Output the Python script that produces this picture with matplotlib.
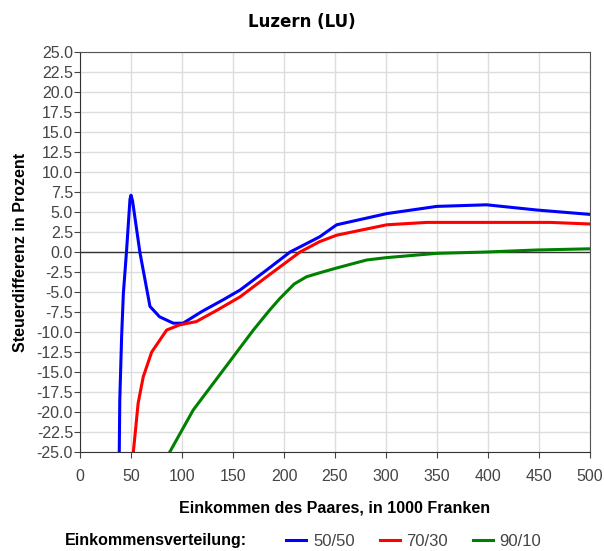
import matplotlib
matplotlib.use("Agg")
import matplotlib.pyplot as plt
import numpy as np
from matplotlib.lines import Line2D

plt.rcParams['font.family'] = ['Liberation Sans', 'DejaVu Sans']
plt.rcParams['axes.unicode_minus'] = False

# Einkommen (1000 Fr.) und Steuerdifferenz (%) je Einkommensverteilung
x_5050 = [38.5, 39, 40.8, 42.5, 45.7, 49, 50, 51.5, 58.8, 68.6, 78, 91.5, 101, 120, 140, 157,
          183, 206, 235, 251.6, 300.7, 349.7, 398.7, 447.7, 500]
y_5050 = [-25, -18.5, -10.6, -5.2, 0.25, 6.6, 7.1, 6.4, -0.1, -6.8, -8.1, -8.9, -8.9, -7.4, -6.0, -4.75,
          -2.25, 0.0, 1.9, 3.4, 4.8, 5.7, 5.9, 5.25, 4.7]

x_7030 = [52.3, 57, 62, 70.3, 85, 98, 114, 134, 157, 183, 215.7, 235, 251.6, 300.7, 340, 461, 500]
y_7030 = [-25, -18.9, -15.6, -12.5, -9.75, -9.1, -8.7, -7.3, -5.6, -3.1, 0.0, 1.3, 2.1, 3.4, 3.7, 3.7, 3.5]

x_9010 = [88, 111, 140.5, 170, 186, 196, 210, 222, 235, 251.6, 281, 300.7, 349.7, 398.7, 447.7, 500]
y_9010 = [-25, -19.75, -14.75, -9.75, -7.25, -5.8, -4.0, -3.1, -2.6, -2.0, -1.0, -0.7, -0.17, 0.0, 0.25, 0.4]

series = [("50/50", x_5050, y_5050, "#0000ff"),
          ("70/30", x_7030, y_7030, "#ff0000"),
          ("90/10", x_9010, y_9010, "#008000")]

fig = plt.figure(figsize=(6.04, 5.51), dpi=100)
ax = fig.add_axes([80 / 604, 1 - 452 / 551, 510 / 604, 400 / 551])

ax.set_xlim(0, 500)
ax.set_ylim(-25, 25)
ax.set_xticks(np.arange(0, 501, 50))
ax.set_yticks(np.arange(-25, 25.1, 2.5))
ax.set_yticklabels([f"{v:.1f}" for v in np.arange(-25, 25.1, 2.5)])
ax.grid(True, color="#dddddd", linewidth=1)
ax.set_axisbelow(True)
ax.axhline(0, color="#333333", linewidth=1)

for label, xs, ys, c in series:
    ax.plot(xs, ys, color=c, linewidth=2.2)

for s in ax.spines.values():
    s.set_color("#555555")
ax.spines['left'].set_color("#333333")
ax.spines['bottom'].set_color("#333333")
ax.tick_params(colors="#444444", labelsize=11.5, length=4, direction="out")
ax.tick_params(axis="x", pad=8)
ax.tick_params(axis="y", pad=1)

fig.text(302 / 604, 1 - 22 / 551, "Luzern (LU)", fontsize=12, fontweight="bold",
         family="DejaVu Sans", ha="center", va="center")
ax.set_xlabel("Einkommen des Paares, in 1000 Franken", fontsize=11.5, fontweight="bold", labelpad=12)
ax.set_ylabel("Steuerdifferenz in Prozent", fontsize=11.5, fontweight="bold", labelpad=6)

# Legend row at the bottom
fig.text(156 / 604, 1 - 541 / 551, "Einkommensverteilung:", fontsize=11.5, fontweight="bold",
         ha="center", va="center")
handles = [Line2D([], [], color=c, linewidth=2.2) for _, _, _, c in series]
labels = [s[0] for s in series]
fig.legend(handles, labels, loc="center", bbox_to_anchor=(414 / 604, 1 - 541 / 551), ncol=3,
           frameon=False, fontsize=12, handlelength=1.2, columnspacing=1.5, handletextpad=0.4,
           labelcolor="#444444")

fig.savefig("out.png", dpi=100)
